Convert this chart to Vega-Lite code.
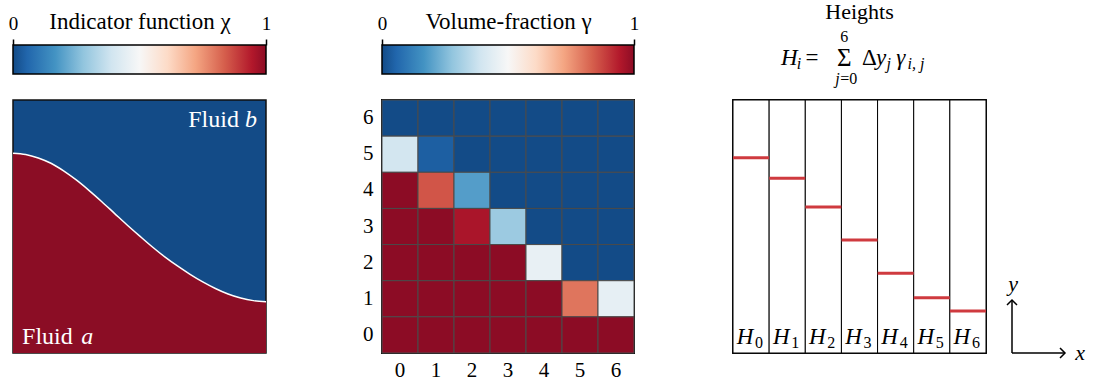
{
  "$schema": "https://vega.github.io/schema/vega-lite/v6.json",
  "padding": {"left": 8, "top": 0, "right": 0, "bottom": 0},
  "background": "white",
  "config": {"font": "Liberation Serif", "axis": {"labelFont": "Liberation Serif", "titleFont": "Liberation Serif"}, "text": {"font": "Liberation Serif"}, "view": {"stroke": null}},
  "datasets": {
    "curve": [
      {"x": 0.00, "h": 0.790}, {"x": 0.05, "h": 0.785}, {"x": 0.10, "h": 0.771},
      {"x": 0.15, "h": 0.750}, {"x": 0.20, "h": 0.720}, {"x": 0.25, "h": 0.684},
      {"x": 0.30, "h": 0.643}, {"x": 0.35, "h": 0.599}, {"x": 0.40, "h": 0.553},
      {"x": 0.45, "h": 0.507}, {"x": 0.50, "h": 0.463}, {"x": 0.55, "h": 0.420},
      {"x": 0.60, "h": 0.380}, {"x": 0.65, "h": 0.344}, {"x": 0.70, "h": 0.311},
      {"x": 0.75, "h": 0.281}, {"x": 0.80, "h": 0.255}, {"x": 0.85, "h": 0.233},
      {"x": 0.90, "h": 0.217}, {"x": 0.95, "h": 0.207}, {"x": 1.00, "h": 0.203}
    ],
    "cells": [
      {"i": 0, "j": 6, "g": 0}, {"i": 1, "j": 6, "g": 0}, {"i": 2, "j": 6, "g": 0}, {"i": 3, "j": 6, "g": 0}, {"i": 4, "j": 6, "g": 0}, {"i": 5, "j": 6, "g": 0}, {"i": 6, "j": 6, "g": 0},
      {"i": 0, "j": 5, "g": 0.395}, {"i": 1, "j": 5, "g": 0.041}, {"i": 2, "j": 5, "g": 0}, {"i": 3, "j": 5, "g": 0}, {"i": 4, "j": 5, "g": 0}, {"i": 5, "j": 5, "g": 0}, {"i": 6, "j": 5, "g": 0},
      {"i": 0, "j": 4, "g": 1}, {"i": 1, "j": 4, "g": 0.85}, {"i": 2, "j": 4, "g": 0.19}, {"i": 3, "j": 4, "g": 0}, {"i": 4, "j": 4, "g": 0}, {"i": 5, "j": 4, "g": 0}, {"i": 6, "j": 4, "g": 0},
      {"i": 0, "j": 3, "g": 1}, {"i": 1, "j": 3, "g": 1}, {"i": 2, "j": 3, "g": 0.956}, {"i": 3, "j": 3, "g": 0.296}, {"i": 4, "j": 3, "g": 0}, {"i": 5, "j": 3, "g": 0}, {"i": 6, "j": 3, "g": 0},
      {"i": 0, "j": 2, "g": 1}, {"i": 1, "j": 2, "g": 1}, {"i": 2, "j": 2, "g": 1}, {"i": 3, "j": 2, "g": 1}, {"i": 4, "j": 2, "g": 0.456}, {"i": 5, "j": 2, "g": 0}, {"i": 6, "j": 2, "g": 0},
      {"i": 0, "j": 1, "g": 1}, {"i": 1, "j": 1, "g": 1}, {"i": 2, "j": 1, "g": 1}, {"i": 3, "j": 1, "g": 1}, {"i": 4, "j": 1, "g": 1}, {"i": 5, "j": 1, "g": 0.8}, {"i": 6, "j": 1, "g": 0.45},
      {"i": 0, "j": 0, "g": 1}, {"i": 1, "j": 0, "g": 1}, {"i": 2, "j": 0, "g": 1}, {"i": 3, "j": 0, "g": 1}, {"i": 4, "j": 0, "g": 1}, {"i": 5, "j": 0, "g": 1}, {"i": 6, "j": 0, "g": 1}
    ],
    "heights": [
      {"i": 0, "H": 0.772}, {"i": 1, "H": 0.691}, {"i": 2, "H": 0.577}, {"i": 3, "H": 0.447},
      {"i": 4, "H": 0.315}, {"i": 5, "H": 0.218}, {"i": 6, "H": 0.166}
    ]
  },
  "columns": 7,
  "spacing": {"row": 26, "column": 0},
  "bounds": "flush",
  "concat": [
    {
      "width": 253, "height": 29,
      "data": {"values": [{}]},
      "mark": {"type": "rect", "stroke": "black", "strokeWidth": 1.5,
        "fill": {"gradient": "linear", "x1": 0, "y1": 0, "x2": 1, "y2": 0, "stops": [
          {"offset": 0, "color": "#134b87"}, {"offset": 0.0556, "color": "#2166ac"},
          {"offset": 0.1667, "color": "#4393c3"}, {"offset": 0.2778, "color": "#92c5de"},
          {"offset": 0.3889, "color": "#d1e5f0"}, {"offset": 0.5, "color": "#f7f7f7"},
          {"offset": 0.6111, "color": "#fddbc7"}, {"offset": 0.7222, "color": "#f4a582"},
          {"offset": 0.8333, "color": "#d6604d"}, {"offset": 0.9444, "color": "#b2182b"},
          {"offset": 1, "color": "#8c0c25"}]}},
      "encoding": {
        "x": {"datum": 0, "type": "quantitative", "scale": {"domain": [0, 1], "nice": false},
          "axis": {"orient": "top", "values": [0, 1], "format": "d", "labelFlush": false, "tickSize": 6, "tickWidth": 1.5, "tickColor": "black", "domain": false, "grid": false, "labelFont": "Liberation Serif", "labelFontSize": 19, "labelColor": "black", "labelPadding": 10, "labelBaseline": "alphabetic", "title": "Indicator function χ", "titleFont": "Liberation Serif", "titleFontSize": 23, "titleFontWeight": "normal", "titleColor": "black", "titleY": -17, "titleBaseline": "alphabetic"}},
        "x2": {"datum": 1},
        "y": {"datum": 0, "type": "quantitative", "scale": {"domain": [0, 1], "nice": false}, "axis": null},
        "y2": {"datum": 1}
      }
    },
    {"width": 116, "height": 29, "data": {"values": [{}]}, "mark": {"type": "text", "text": ""}, "encoding": {}},
    {
      "width": 252, "height": 29,
      "data": {"values": [{}]},
      "mark": {"type": "rect", "stroke": "black", "strokeWidth": 1.5,
        "fill": {"gradient": "linear", "x1": 0, "y1": 0, "x2": 1, "y2": 0, "stops": [
          {"offset": 0, "color": "#134b87"}, {"offset": 0.0556, "color": "#2166ac"},
          {"offset": 0.1667, "color": "#4393c3"}, {"offset": 0.2778, "color": "#92c5de"},
          {"offset": 0.3889, "color": "#d1e5f0"}, {"offset": 0.5, "color": "#f7f7f7"},
          {"offset": 0.6111, "color": "#fddbc7"}, {"offset": 0.7222, "color": "#f4a582"},
          {"offset": 0.8333, "color": "#d6604d"}, {"offset": 0.9444, "color": "#b2182b"},
          {"offset": 1, "color": "#8c0c25"}]}},
      "encoding": {
        "x": {"datum": 0, "type": "quantitative", "scale": {"domain": [0, 1], "nice": false},
          "axis": {"orient": "top", "values": [0, 1], "format": "d", "labelFlush": false, "tickSize": 6, "tickWidth": 1.5, "tickColor": "black", "domain": false, "grid": false, "labelFont": "Liberation Serif", "labelFontSize": 19, "labelColor": "black", "labelPadding": 10, "labelBaseline": "alphabetic", "title": "Volume-fraction γ", "titleFont": "Liberation Serif", "titleFontSize": 23, "titleFontWeight": "normal", "titleColor": "black", "titleY": -17, "titleBaseline": "alphabetic"}},
        "x2": {"datum": 1},
        "y": {"datum": 0, "type": "quantitative", "scale": {"domain": [0, 1], "nice": false}, "axis": null},
        "y2": {"datum": 1}
      }
    },
    {"width": 99, "height": 29, "data": {"values": [{}]}, "mark": {"type": "text", "text": ""}, "encoding": {}},
    {
      "width": 253, "height": 29,
      "data": {"values": [{}]},
      "layer": [
        {"mark": {"type": "text", "text": "Heights", "font": "Liberation Serif", "fontSize": 22, "align": "center", "baseline": "alphabetic", "color": "black"},
         "encoding": {"x": {"datum": 0.5, "type": "quantitative", "scale": {"domain": [0, 1], "nice": false}, "axis": null},
                      "y": {"datum": 1.897, "type": "quantitative", "scale": {"domain": [0, 1], "nice": false}, "axis": null}}},
        {"mark": {"type": "text", "text": "H", "font": "Liberation Serif", "fontSize": 23, "fontStyle": "italic", "align": "left", "baseline": "alphabetic", "color": "black"},
         "encoding": {"x": {"datum": 0.19, "type": "quantitative"}, "y": {"datum": 0.31, "type": "quantitative"}}},
        {"mark": {"type": "text", "text": "i", "font": "Liberation Serif", "fontSize": 16, "fontStyle": "italic", "align": "left", "baseline": "alphabetic", "color": "black"},
         "encoding": {"x": {"datum": 0.252, "type": "quantitative"}, "y": {"datum": 0.172, "type": "quantitative"}}},
        {"mark": {"type": "text", "text": "=", "font": "Liberation Serif", "fontSize": 23, "align": "center", "baseline": "alphabetic", "color": "black"},
         "encoding": {"x": {"datum": 0.312, "type": "quantitative"}, "y": {"datum": 0.31, "type": "quantitative"}}},
        {"mark": {"type": "text", "text": "Σ", "font": "Liberation Serif", "fontSize": 25, "align": "center", "baseline": "alphabetic", "color": "black"},
         "encoding": {"x": {"datum": 0.44, "type": "quantitative"}, "y": {"datum": 0.26, "type": "quantitative"}}},
        {"mark": {"type": "text", "text": "6", "font": "Liberation Serif", "fontSize": 16, "align": "center", "baseline": "alphabetic", "color": "black"},
         "encoding": {"x": {"datum": 0.44, "type": "quantitative"}, "y": {"datum": 1.103, "type": "quantitative"}}},
        {"mark": {"type": "text", "text": "j", "font": "Liberation Serif", "fontSize": 16, "fontStyle": "italic", "align": "right", "baseline": "alphabetic", "color": "black"},
         "encoding": {"x": {"datum": 0.422, "type": "quantitative"}, "y": {"datum": -0.345, "type": "quantitative"}}},
        {"mark": {"type": "text", "text": "=0", "font": "Liberation Serif", "fontSize": 16, "align": "left", "baseline": "alphabetic", "color": "black"},
         "encoding": {"x": {"datum": 0.424, "type": "quantitative"}, "y": {"datum": -0.345, "type": "quantitative"}}},
        {"mark": {"type": "text", "text": "Δ", "font": "Liberation Serif", "fontSize": 23, "align": "left", "baseline": "alphabetic", "color": "black"},
         "encoding": {"x": {"datum": 0.51, "type": "quantitative"}, "y": {"datum": 0.31, "type": "quantitative"}}},
        {"mark": {"type": "text", "text": "y", "font": "Liberation Serif", "fontSize": 23, "fontStyle": "italic", "align": "left", "baseline": "alphabetic", "color": "black"},
         "encoding": {"x": {"datum": 0.565, "type": "quantitative"}, "y": {"datum": 0.31, "type": "quantitative"}}},
        {"mark": {"type": "text", "text": "j", "font": "Liberation Serif", "fontSize": 16, "fontStyle": "italic", "align": "left", "baseline": "alphabetic", "color": "black"},
         "encoding": {"x": {"datum": 0.607, "type": "quantitative"}, "y": {"datum": 0.172, "type": "quantitative"}}},
        {"mark": {"type": "text", "text": "γ", "font": "Liberation Serif", "fontSize": 23, "fontStyle": "italic", "align": "left", "baseline": "alphabetic", "color": "black"},
         "encoding": {"x": {"datum": 0.645, "type": "quantitative"}, "y": {"datum": 0.31, "type": "quantitative"}}},
        {"mark": {"type": "text", "text": "i, j", "font": "Liberation Serif", "fontSize": 16, "fontStyle": "italic", "align": "left", "baseline": "alphabetic", "color": "black"},
         "encoding": {"x": {"datum": 0.69, "type": "quantitative"}, "y": {"datum": 0.172, "type": "quantitative"}}}
      ]
    },
    {"width": 26, "height": 29, "data": {"values": [{}]}, "mark": {"type": "text", "text": ""}, "encoding": {}},
    {"width": 80, "height": 29, "data": {"values": [{}]}, "mark": {"type": "text", "text": ""}, "encoding": {}},
    {
      "width": 253, "height": 253,
      "view": {"fill": "#134b87", "stroke": "#111111", "strokeWidth": 1.5},
      "layer": [
        {
          "data": {"name": "curve"},
          "mark": {"type": "area", "color": "#8b0d25", "interpolate": "monotone", "opacity": 1},
          "encoding": {
            "x": {"field": "x", "type": "quantitative", "scale": {"domain": [0, 1], "nice": false}, "axis": null},
            "y": {"field": "h", "type": "quantitative", "scale": {"domain": [0, 1], "nice": false}, "axis": null}
          }
        },
        {
          "data": {"name": "curve"},
          "mark": {"type": "line", "color": "white", "strokeWidth": 1.5, "interpolate": "monotone"},
          "encoding": {
            "x": {"field": "x", "type": "quantitative"},
            "y": {"field": "h", "type": "quantitative"}
          }
        },
        {
          "data": {"values": [{}]},
          "mark": {"type": "text", "text": "Fluid", "font": "Liberation Serif", "align": "right", "baseline": "alphabetic", "fontSize": 24, "color": "white"},
          "encoding": {"x": {"datum": 0.893, "type": "quantitative"}, "y": {"datum": 0.893, "type": "quantitative"}}
        },
        {
          "data": {"values": [{}]},
          "mark": {"type": "text", "text": "b", "font": "Liberation Serif", "align": "left", "baseline": "alphabetic", "fontSize": 24, "fontStyle": "italic", "color": "white"},
          "encoding": {"x": {"datum": 0.917, "type": "quantitative"}, "y": {"datum": 0.893, "type": "quantitative"}}
        },
        {
          "data": {"values": [{}]},
          "mark": {"type": "text", "text": "Fluid", "font": "Liberation Serif", "align": "left", "baseline": "alphabetic", "fontSize": 24, "color": "white"},
          "encoding": {"x": {"datum": 0.036, "type": "quantitative"}, "y": {"datum": 0.036, "type": "quantitative"}}
        },
        {
          "data": {"values": [{}]},
          "mark": {"type": "text", "text": "a", "font": "Liberation Serif", "align": "left", "baseline": "alphabetic", "fontSize": 24, "fontStyle": "italic", "color": "white"},
          "encoding": {"x": {"datum": 0.27, "type": "quantitative"}, "y": {"datum": 0.036, "type": "quantitative"}}
        }
      ]
    },
    {"width": 116, "height": 29, "data": {"values": [{}]}, "mark": {"type": "text", "text": ""}, "encoding": {}},
    {
      "width": 252, "height": 253,
      "data": {"name": "cells"},
      "view": {"stroke": "#111111", "strokeWidth": 2},
      "mark": {"type": "rect", "stroke": "#4a4a4a", "strokeWidth": 1},
      "encoding": {
        "x": {"field": "i", "type": "ordinal", "scale": {"paddingInner": 0, "paddingOuter": 0},
          "axis": {"title": null, "labelAngle": 0, "ticks": false, "domain": false, "labelFont": "Liberation Serif", "labelFontSize": 21, "labelPadding": 6, "labelColor": "black"}},
        "y": {"field": "j", "type": "ordinal", "sort": "descending", "scale": {"paddingInner": 0, "paddingOuter": 0},
          "axis": {"title": null, "ticks": false, "domain": false, "labelFont": "Liberation Serif", "labelFontSize": 21, "labelPadding": 9, "labelColor": "black"}},
        "color": {"field": "g", "type": "quantitative", "legend": null,
          "scale": {"type": "linear", "interpolate": "rgb",
            "domain": [0, 0.0556, 0.1667, 0.2778, 0.3889, 0.5, 0.6111, 0.7222, 0.8333, 0.9444, 1],
            "range": ["#134b87", "#2166ac", "#4393c3", "#92c5de", "#d1e5f0", "#f7f7f7", "#fddbc7", "#f4a582", "#d6604d", "#b2182b", "#8c0c25"]}}
      }
    },
    {"width": 99, "height": 29, "data": {"values": [{}]}, "mark": {"type": "text", "text": ""}, "encoding": {}},
    {
      "width": 253, "height": 253,
      "data": {"name": "heights"},
      "view": {"stroke": "#111111", "strokeWidth": 2},
      "layer": [
        {"mark": {"type": "rect", "fill": "white", "stroke": "black", "strokeWidth": 1},
         "encoding": {
           "x": {"field": "i", "type": "ordinal", "scale": {"paddingInner": 0, "paddingOuter": 0}, "axis": null},
           "y": {"datum": 0, "type": "quantitative", "scale": {"domain": [0, 1], "nice": false}, "axis": null},
           "y2": {"datum": 1}}},
        {"mark": {"type": "tick", "color": "#cf3a3f", "thickness": 3, "size": 36, "opacity": 1},
         "encoding": {
           "x": {"field": "i", "type": "ordinal"},
           "y": {"field": "H", "type": "quantitative"}}},
        {"mark": {"type": "text", "text": "H", "font": "Liberation Serif", "fontSize": 23, "fontStyle": "italic", "baseline": "alphabetic", "align": "center", "dx": -6, "color": "black"},
         "encoding": {
           "x": {"field": "i", "type": "ordinal"},
           "y": {"datum": 0.036, "type": "quantitative"}}},
        {"mark": {"type": "text", "font": "Liberation Serif", "fontSize": 16, "baseline": "alphabetic", "align": "center", "dx": 8, "dy": 4, "color": "black"},
         "encoding": {
           "x": {"field": "i", "type": "ordinal"},
           "y": {"datum": 0.036, "type": "quantitative"},
           "text": {"field": "i", "type": "nominal"}}}
      ]
    },
    {"width": 26, "height": 29, "data": {"values": [{}]}, "mark": {"type": "text", "text": ""}, "encoding": {}},
    {
      "width": 80, "height": 253,
      "data": {"values": [{}]},
      "layer": [
        {"mark": {"type": "rule", "strokeWidth": 1.5, "color": "black"},
         "encoding": {
           "x": {"datum": 0, "type": "quantitative", "scale": {"domain": [0, 1], "nice": false}, "axis": null},
           "x2": {"datum": 0.6625},
           "y": {"datum": 0, "type": "quantitative", "scale": {"domain": [0, 1], "nice": false}, "axis": null},
           "y2": {"datum": 0}}},
        {"mark": {"type": "rule", "strokeWidth": 1.5, "color": "black"},
         "encoding": {
           "x": {"datum": 0, "type": "quantitative"},
           "y": {"datum": 0, "type": "quantitative"},
           "y2": {"datum": 0.2095}}},
        {"mark": {"type": "point", "shape": "M-1,-1L0,0L-1,1", "size": 100, "filled": false, "stroke": "black", "strokeWidth": 1.5, "opacity": 1},
         "encoding": {"x": {"datum": 0.6625, "type": "quantitative"}, "y": {"datum": 0, "type": "quantitative"}}},
        {"mark": {"type": "point", "shape": "M-1,1L0,0L1,1", "size": 100, "filled": false, "stroke": "black", "strokeWidth": 1.5, "opacity": 1},
         "encoding": {"x": {"datum": 0, "type": "quantitative"}, "y": {"datum": 0.2095, "type": "quantitative"}}},
        {"mark": {"type": "text", "text": "x", "font": "Liberation Serif", "fontSize": 22, "fontStyle": "italic", "align": "center", "baseline": "middle", "color": "black"},
         "encoding": {"x": {"datum": 0.85, "type": "quantitative"}, "y": {"datum": 0, "type": "quantitative"}}},
        {"mark": {"type": "text", "text": "y", "font": "Liberation Serif", "fontSize": 22, "fontStyle": "italic", "align": "center", "baseline": "middle", "color": "black"},
         "encoding": {"x": {"datum": 0.0125, "type": "quantitative"}, "y": {"datum": 0.273, "type": "quantitative"}}}
      ]
    }
  ]
}
